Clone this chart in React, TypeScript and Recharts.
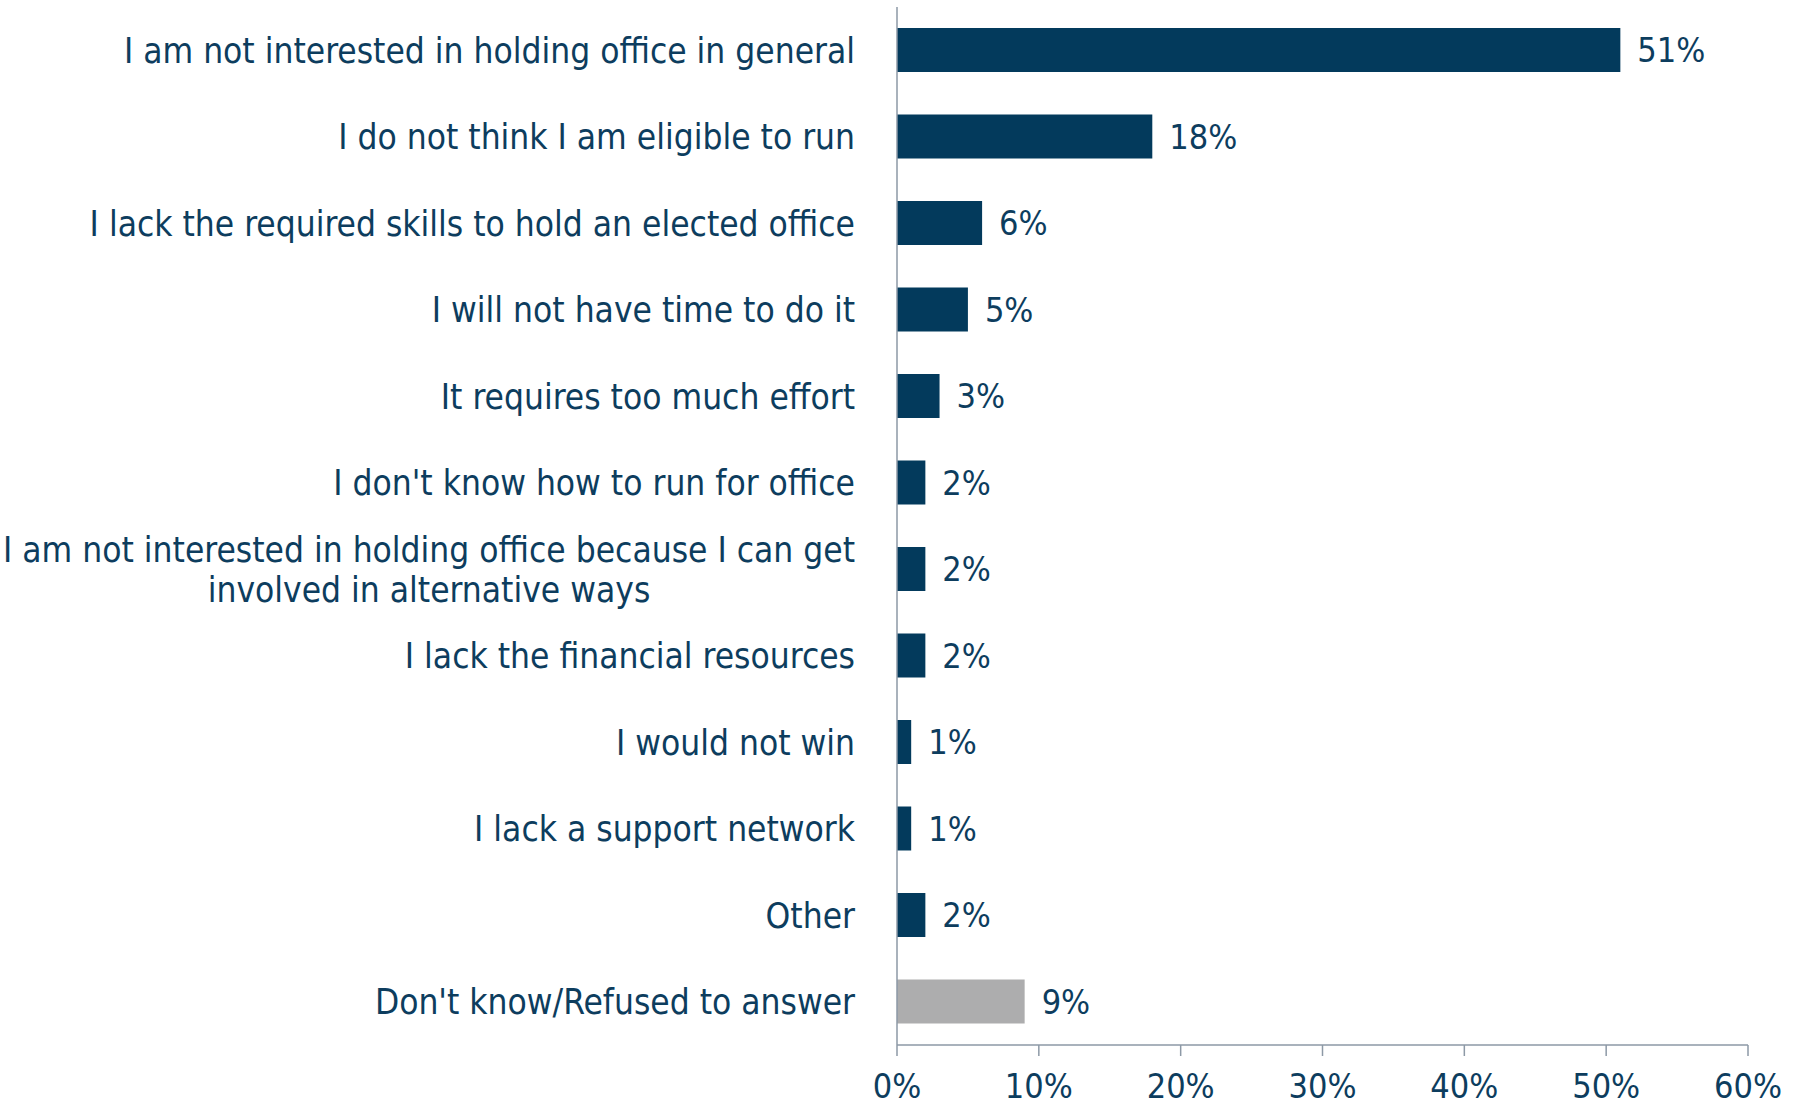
import React from "react";
import {
  Bar,
  BarChart,
  Cell,
  LabelList,
  XAxis,
  YAxis,
} from "recharts";

const reasons = [
  "I am not interested in holding office in general",
  "I do not think I am eligible to run",
  "I lack the required skills to hold an elected office",
  "I will not have time to do it",
  "It requires too much effort",
  "I don't know how to run for office",
  "I am not interested in holding office because I can get\ninvolved in alternative ways",
  "I lack the financial resources",
  "I would not win",
  "I lack a support network",
  "Other",
  "Don't know/Refused to answer",
];

const shares = [51, 18, 6, 5, 3, 2, 2, 2, 1, 1, 2, 9];

const xTicks = [0, 10, 20, 30, 40, 50, 60];

const NAVY = "#033a5c";
const GREY_BAR = "#adadae";
const TEXT = "#0d3d5e";
const AXIS = "#8d99a6";
const FONT = "'DejaVu Sans Condensed', 'DejaVu Sans', sans-serif";
const LABEL_SIZE = 35;
const NUM_SIZE = 34;

const data = reasons.map((reason, i) => ({ reason, value: shares[i] }));

let measureCtx: CanvasRenderingContext2D | null = null;
const textWidth = (s: string) => {
  if (!measureCtx) {
    measureCtx = document.createElement("canvas").getContext("2d");
  }
  if (!measureCtx) return s.length * LABEL_SIZE * 0.45;
  measureCtx.font = `${LABEL_SIZE}px ${FONT}`;
  return measureCtx.measureText(s).width;
};

// right-aligned label; multi-line labels are centred on their widest line
const ReasonTick = (props: any) => {
  const { x, y, payload } = props;
  const lines: string[] = String(payload.value).split("\n");
  const right = x - 41;
  if (lines.length === 1) {
    return (
      <text
        x={right}
        y={y}
        dy="0.35em"
        textAnchor="end"
        fill={TEXT}
        fontSize={LABEL_SIZE}
        fontFamily={FONT}>
        {lines[0]}
      </text>
    );
  }
  const widest = Math.max(...lines.map(textWidth));
  const cx = right - widest / 2;
  const lineH = 40;
  const startY = y - ((lines.length - 1) * lineH) / 2;
  return (
    <text
      textAnchor="middle"
      fill={TEXT}
      fontSize={LABEL_SIZE}
      fontFamily={FONT}>
      {lines.map((l, i) => (
        <tspan key={i} x={cx} y={startY + i * lineH} dy="0.35em">
          {l}
        </tspan>
      ))}
    </text>
  );
};

const App = () => {
  return (
    <div style={{ width: 1795, height: 1107, background: "#fff" }}>
      <style>{"body{margin:0}"}</style>
      <BarChart
        width={1795}
        height={1107}
        data={data}
        layout="vertical"
        barSize={44}
        margin={{ top: 7, right: 47, bottom: 0, left: 0 }}>
        {/* numeric helper axis: draws the axis line with ticks between categories */}
        <YAxis
          yAxisId="bounds"
          type="number"
          orientation="left"
          domain={[0, reasons.length]}
          ticks={reasons.map((_, i) => i).concat(reasons.length)}
          width={1}
          tick={false}
          tickSize={10}
          axisLine={{ stroke: AXIS, strokeWidth: 1.5 }}
          tickLine={{ stroke: AXIS, strokeWidth: 1.5 }}
        />
        <YAxis
          yAxisId="cat"
          type="category"
          dataKey="reason"
          width={896}
          axisLine={false}
          tickLine={false}
          tickSize={0}
          tickMargin={0}
          interval={0}
          tick={<ReasonTick />}
        />
        <XAxis
          type="number"
          domain={[0, 60]}
          ticks={xTicks}
          height={62}
          tickFormatter={(v) => `${v}%`}
          tickSize={11}
          tickMargin={18}
          axisLine={{ stroke: AXIS, strokeWidth: 1.5 }}
          tickLine={{ stroke: AXIS, strokeWidth: 1.5 }}
          tick={{ fill: TEXT, fontSize: NUM_SIZE, fontFamily: FONT }}
        />
        <Bar dataKey="value" yAxisId="cat" isAnimationActive={false}>
          {data.map((_, i) => (
            <Cell key={i} fill={i === data.length - 1 ? GREY_BAR : NAVY} />
          ))}
          <LabelList
            dataKey="value"
            position="right"
            offset={17}
            formatter={(v: any) => `${v}%`}
            fill={TEXT}
            fontSize={NUM_SIZE}
            fontFamily={FONT}
          />
        </Bar>
      </BarChart>
    </div>
  );
};

export default App;
